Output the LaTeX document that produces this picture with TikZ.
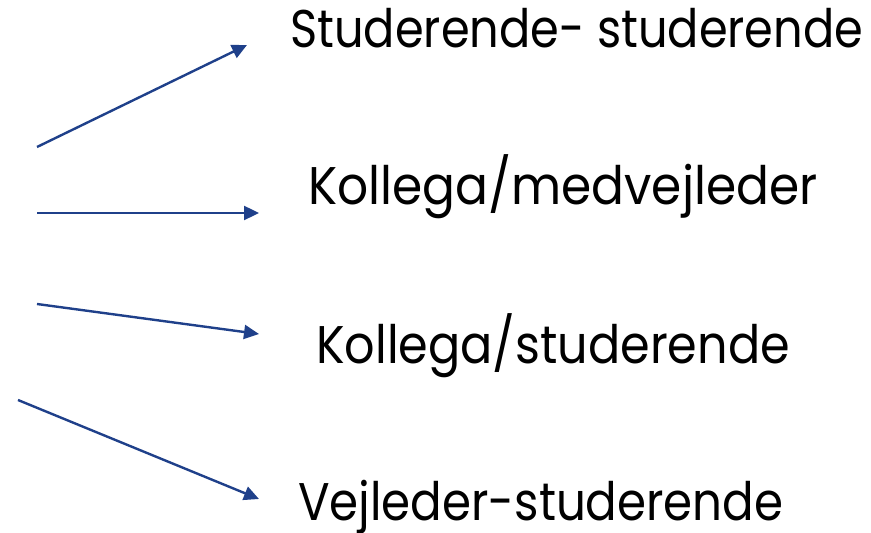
\documentclass[tikz,border=0pt]{standalone}
\usepackage{fontspec}
\setmainfont{Poppins}[FakeStretch=0.9]
\usetikzlibrary{arrows.meta}
\definecolor{arrowblue}{RGB}{31,64,138}
\tikzset{
  conn/.style={draw=arrowblue, line width=2.4pt, -{Triangle[length=15pt,width=14pt]}},
  lbl/.style={anchor=base west, inner sep=0pt, font=\fontsize{53}{60}\selectfont}
}
\begin{document}
\begin{tikzpicture}[x=1pt,y=1pt]
\useasboundingbox (0,0) rectangle (871,533);
\node[lbl] (t1) at (290,485) {\scalebox{0.97}[1]{Studerende- studerende}};
\node[lbl] (t2) at (308,328) {\scalebox{1.02}[1]{Kollega/medvejleder}};
\node[lbl] (t3) at (316,169) {Kollega/studerende};
\node[lbl] (t4) at (298,12) {\scalebox{0.98}[1]{Vejleder-studerende}};
\coordinate (s1) at (37,386);
\coordinate (e1) at (247,488);
\coordinate (s2) at (37,320);
\coordinate (e2) at (259,320);
\coordinate (s3) at (37,229);
\coordinate (e3) at (259,199);
\coordinate (s4) at (18,133);
\coordinate (e4) at (259,34);
\draw[conn] (s1) -- (e1);
\draw[conn] (s2) -- (e2);
\draw[conn] (s3) -- (e3);
\draw[conn] (s4) -- (e4);
\end{tikzpicture}
\end{document}
